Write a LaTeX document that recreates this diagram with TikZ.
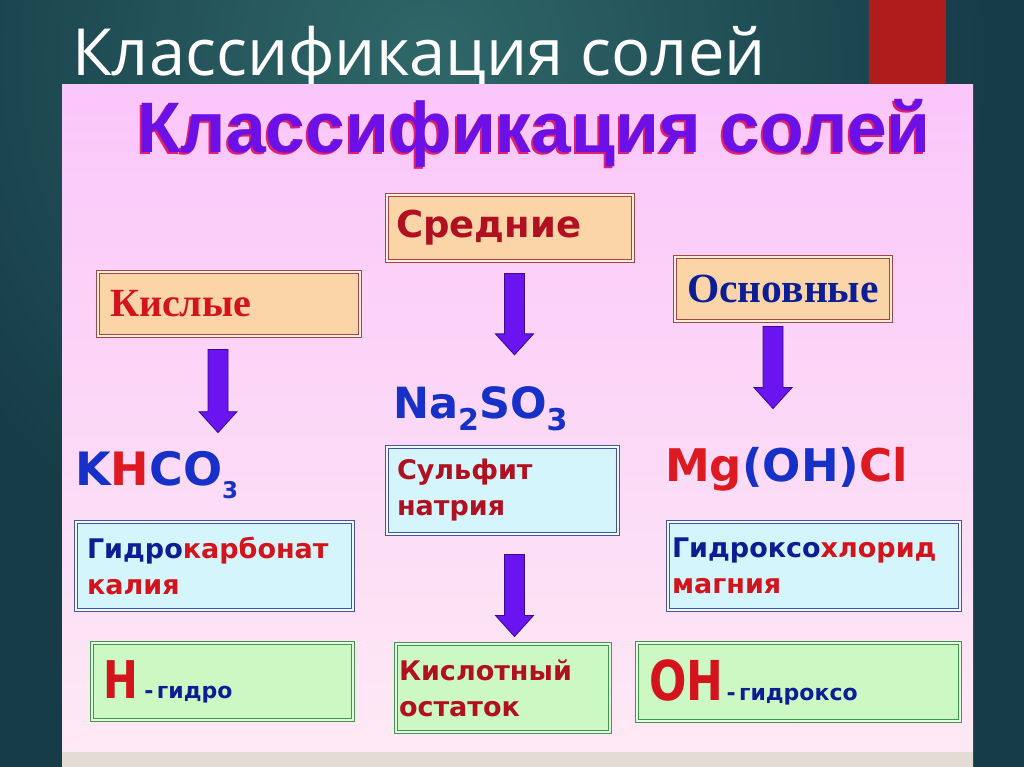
\documentclass[tikz,border=0pt]{standalone}
\usepackage{fontspec}
\setmainfont{DejaVu Sans}
\newfontfamily\slidefont{Open Sans}
\newfontfamily\arialfont{Liberation Sans}
\newfontfamily\romanfont{Liberation Serif}
\newfontfamily\narrowfont[FakeStretch=0.8]{DejaVu Sans}
\usetikzlibrary{%
  calc,%
  positioning% wg. " of "
}

\definecolor{bgdark}{HTML}{163C48}
\definecolor{bglight}{HTML}{2F6768}
\definecolor{redbar}{HTML}{B01C1C}
\definecolor{pinktop}{HTML}{FBC6FA}
\definecolor{pinkbot}{HTML}{FDEAF4}
\definecolor{stripcol}{HTML}{E5DBD5}
\definecolor{titleviolet}{HTML}{6C10E8}
\definecolor{titleshade}{HTML}{E0206A}
\definecolor{peachfill}{HTML}{FBD4A8}
\definecolor{peachedge}{HTML}{A04848}
\definecolor{cyanfill}{HTML}{D3F5FB}
\definecolor{cyanedge}{HTML}{4A52A0}
\definecolor{greenfill}{HTML}{CCF8C4}
\definecolor{greenedge}{HTML}{3A9A4A}
\definecolor{txtred}{HTML}{D4141C}
\definecolor{txtdarkred}{HTML}{B01020}
\definecolor{txtnavy}{HTML}{0C1E94}
\definecolor{fblue}{HTML}{1630C8}
\definecolor{fred}{HTML}{DD1A22}
\definecolor{arrowfill}{HTML}{6A14F0}
\definecolor{arrowedge}{HTML}{3A0A90}

% subscript digit: size, drop, digit
\newcommand{\chemsub}[3]{\raisebox{-#2pt}{\fontsize{#1}{#1}\selectfont #3}}
% fat violet arrow going straight down from #1 to the level of #2
\newcommand{\blockarrow}[2]{%
  \path[blockarr] let \p1=#1, \p2=#2 in
    (\x1-10pt,\y1) -- (\x1+10pt,\y1) -- (\x1+10pt,\y2+21pt) -- (\x1+19pt,\y2+21pt)
    -- (\x1,\y2) -- (\x1-19pt,\y2+21pt) -- (\x1-10pt,\y2+21pt) -- cycle;}

\begin{document}
\begin{tikzpicture}
  [
  x=1pt, y=-1pt, font=\bfseries,
  box/.style n args={3}{rectangle, text width=#1, inner xsep=#2, minimum height=#3, align=left, inner ysep=0pt},
  peachbox/.style={draw=peachedge, double=peachfill!40!white, double distance=1.4pt, line width=0.9pt, fill=peachfill},
  cyanbox/.style={draw=cyanedge, double=cyanfill!40!white, double distance=1.4pt, line width=0.9pt, fill=cyanfill},
  greenbox/.style={draw=greenedge, double=greenfill!40!white, double distance=1.4pt, line width=0.9pt, fill=greenfill},
  formula/.style={inner sep=0pt, anchor=base west},
  blockarr/.style={draw=arrowedge, fill=arrowfill, line width=0.8pt, line join=miter}
  ]

\useasboundingbox (0,0) rectangle (1024,767);

% slide background
\fill[bgdark] (0,0) rectangle (1024,767);
\begin{scope}
  \clip (0,0) rectangle (1024,767);
  \shade[inner color=bglight, outer color=bgdark] (430,60) circle (560pt);
\end{scope}
\fill[redbar] (869,0) rectangle (946,86);
\node[formula, text=white, font=\slidefont\fontsize{65}{65}\selectfont] (slidetitle) at (72,76) {Классификация солей};

% pink sheet
\shade[top color=pinktop, bottom color=pinkbot] (62,85) rectangle (973,767);
\fill[stripcol] (62,752) rectangle (973,767);

\node[formula, text=titleshade, font=\arialfont\bfseries\fontsize{71.5}{72}\selectfont] (titleshadow) at (135,155) {Классификация солей};
\node[formula, text=titleviolet, font=\arialfont\bfseries\fontsize{71.5}{72}\selectfont] (title) at (137,153) {Классификация солей};

% kinds of salts
\node[peachbox, box={238pt}{12pt}{64pt}, text=txtred, font=\romanfont\bfseries\fontsize{40}{40}\selectfont] (kislye) at (229,304) {Кислые};
\node[peachbox, box={228pt}{9pt}{66pt}, text=txtdarkred, font=\bfseries\fontsize{37}{37}\selectfont] (srednie) at (510,228) {Средние};
\node[peachbox, box={208pt}{4pt}{64pt}, align=center, text=txtnavy, font=\romanfont\bfseries\fontsize{41.5}{42}\selectfont] (osnovnye) at (783,289) {Основные};

% formulas
\node[formula, font=\bfseries\fontsize{46}{46}\selectfont] (khco) at (75,485)
  {\color{fblue}K\color{fred}H\color{fblue}CO\chemsub{23}{13}{3}};
\node[formula, text=fblue, font=\bfseries\fontsize{43}{43}\selectfont] (naso) at (393,418)
  {Na\chemsub{30}{12}{2}SO\chemsub{30}{12}{3}};
\node[formula, font=\bfseries\fontsize{45}{45}\selectfont] (mgohcl) at (665,481)
  {\color{fred}Mg\color{fblue}(OH)\color{fred}Cl};

% names
\node[cyanbox, box={255pt}{11pt}{88pt}, font=\bfseries\fontsize{27}{36}\selectfont] (gidrokarb) at (214.5,566)
  {{\color{txtnavy}Гидро}{\color{txtred}карбонат}\\{\color{txtred}калия}};
\node[cyanbox, box={211pt}{10pt}{87pt}, text=txtdarkred, font=\bfseries\fontsize{27}{36}\selectfont] (sulfit) at (502.5,490.5)
  {Сульфит\\натрия};
\node[cyanbox, box={284pt}{4pt}{88pt}, font=\bfseries\fontsize{27}{36}\selectfont] (gidroksochl) at (814,566)
  {{\color{txtnavy}Гидроксо}{\color{txtred}хлорид}\\{\color{txtred}магния}};

% prefixes
\node[greenbox, box={239pt}{11pt}{77pt}] (hgidro) at (222.5,681.5)
  {{\narrowfont\fontsize{52}{52}\selectfont\color{txtred}H}{\fontsize{22}{22}\selectfont\color{txtnavy}\ \ - гидро}};
\node[greenbox, box={208pt}{3pt}{88pt}, text=txtdarkred, font=\bfseries\fontsize{27}{36}\selectfont] (ostatok) at (503,688)
  {Кислотный\\остаток};
\node[greenbox, box={299pt}{12pt}{78pt}] (ohgidrokso) at (798.5,682)
  {{\narrowfont\fontsize{55}{55}\selectfont\color{txtred}OH}{\fontsize{22}{22}\selectfont\color{txtnavy}\ - гидроксо}};

% arrows
\blockarrow{($(kislye.south)+(-11,13)$)}{($(khco.north)+(0,-18)$)}
\blockarrow{($(srednie.south)+(4.5,12)$)}{($(naso.north)+(0,-31)$)}
\blockarrow{($(osnovnye.south)+(-10,5)$)}{($(mgohcl.north)+(0,-38)$)}
\blockarrow{($(sulfit.south)+(12,20)$)}{($(ostatok.north)+(0,-7)$)}
\end{tikzpicture}
\end{document}
